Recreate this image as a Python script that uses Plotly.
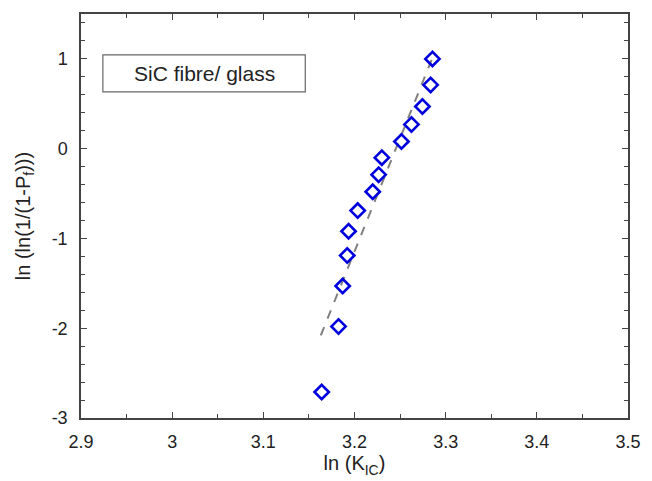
import plotly.graph_objects as go

# Data
ln_kic = [3.2855, 3.2835, 3.2745, 3.2625, 3.2515, 3.230, 3.2265, 3.220,
          3.2035, 3.1935, 3.192, 3.187, 3.1825, 3.164]
ln_ln_pf = [1.00, 0.71, 0.47, 0.27, 0.08, -0.10, -0.29, -0.48,
            -0.69, -0.92, -1.19, -1.53, -1.98, -2.71]
fit_x = [3.163, 3.285]
fit_y = [-2.08, 1.00]
label_text = "SiC fibre/ glass"
x_tickvals = [2.9, 3.0, 3.1, 3.2, 3.3, 3.4, 3.5]
x_ticktext = ["2.9", "3", "3.1", "3.2", "3.3", "3.4", "3.5"]
y_tickvals = [-3, -2, -1, 0, 1]
y_ticktext = ["-3", "-2", "-1", "0", "1"]

FONT = "Liberation Sans, Arial, sans-serif"
AX_COLOR = "#444444"
TXT = "#222222"

fig = go.Figure()
fig.add_trace(go.Scatter(
    x=fit_x, y=fit_y, mode="lines",
    line=dict(color="#808080", width=2, dash="dash"),
    showlegend=False, hoverinfo="skip"))
fig.add_trace(go.Scatter(
    x=ln_kic, y=ln_ln_pf, mode="markers",
    marker=dict(symbol="diamond-open", size=11, color="#0000dd",
                line=dict(width=2.6, color="#0000dd")),
    showlegend=False))

fig.add_shape(type="rect", xref="x", yref="y",
              x0=2.924, x1=3.146, y0=0.633, y1=1.044,
              line=dict(color="#666666", width=1.2), fillcolor="white", layer="below")
fig.add_annotation(x=3.035, y=0.835, xref="x", yref="y", text=label_text,
                   showarrow=False, font=dict(family=FONT, size=21, color=TXT))

axis_common = dict(
    showgrid=False, zeroline=False, showline=True, linecolor=AX_COLOR, linewidth=1.5,
    mirror="allticks", ticks="inside", ticklen=6, tickwidth=1.2, tickcolor=AX_COLOR,
    tickfont=dict(family=FONT, size=18, color=TXT),
)
fig.update_xaxes(
    range=[2.9, 3.5], tickmode="array", tickvals=x_tickvals, ticktext=x_ticktext,
    minor=dict(ticks="inside", dtick=0.05, tick0=2.9, ticklen=4, tickcolor=AX_COLOR, tickwidth=1.2),
    ticklabelstandoff=7,
    title=dict(text="ln (K<sub>IC</sub>)", font=dict(family=FONT, size=20, color=TXT),
               standoff=3),
    **axis_common)
fig.update_yaxes(
    range=[-3, 1.5], tickmode="array", tickvals=y_tickvals, ticktext=y_ticktext,
    minor=dict(ticks="inside", dtick=0.2, tick0=-3, ticklen=4, tickcolor=AX_COLOR, tickwidth=1.2),
    ticklabelstandoff=8,
    title=dict(text="ln (ln(1/(1-P<sub>f</sub>)))",
               font=dict(family=FONT, size=20, color=TXT), standoff=16),
    **axis_common)

fig.update_layout(
    width=652, height=481,
    margin=dict(l=81, r=24, t=14, b=63),
    plot_bgcolor="white", paper_bgcolor="white",
)

fig.write_html("out.html")
